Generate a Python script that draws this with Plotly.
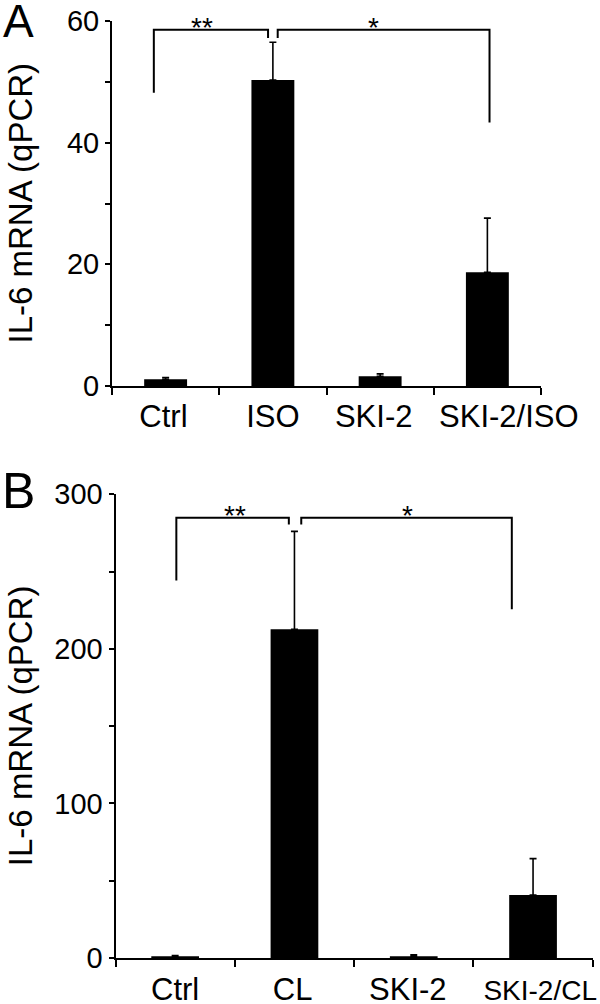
import plotly.graph_objects as go

# ---- data ----
cats_a = ["Ctrl", "ISO", "SKI-2", "SKI-2/ISO"]
vals_a = [1.1, 50.3, 1.6, 18.7]
err_a = [0.3, 6.2, 0.4, 8.9]

cats_b = ["Ctrl", "CL", "SKI-2", "SKI-2/CL"]
vals_b = [1.0, 212.7, 1.2, 40.8]
err_b = [0.6, 63.3, 0.8, 23.5]

yticks_a = [0, 20, 40, 60]
yticks_b = [0, 100, 200, 300]

# label anchor positions along the category axis (as printed in the figure)
labelpos_a = [-0.02, 1.0, 1.94, 3.2]
labelpos_b = [0.0, 0.985, 1.95, 3.06]

# significance brackets (category index positions, values)
br_a_left_x = [-0.11, -0.11, 0.955, 0.955]
br_a_left_y = [48.2, 58.55, 58.55, 57.2]
br_a_right_x = [1.045, 1.045, 3.02, 3.02]
br_a_right_y = [57.2, 58.55, 58.55, 43.3]
br_b_left_x = [0.01, 0.01, 0.953, 0.953]
br_b_left_y = [244.3, 284.9, 284.9, 280.5]
br_b_right_x = [1.057, 1.057, 2.822, 2.822]
br_b_right_y = [280.5, 284.9, 284.9, 225.6]
stars_a = [("**", 0.34, 56.0), ("*", 1.934, 56.0)]
stars_b = [("**", 0.498, 275.0), ("*", 1.948, 275.0)]

FONT = "Liberation Sans, Arial, sans-serif"

# the page body margin is removed, so the figure fills the 600x1004 window
W, H, OFF = 600, 1004, 0
def px(X):
    return (X - OFF) / W
def py(Y):
    return 1 - (Y - OFF) / H

fig = go.Figure()

def add_panel(cats, vals, errs, xa, ya):
    pos = list(range(len(cats)))
    fig.add_trace(go.Bar(
        x=pos, y=vals, xaxis=xa, yaxis=ya, width=0.4,
        marker=dict(color="black", line=dict(width=0)),
        error_y=dict(type="data", array=errs, arrayminus=[0] * len(errs),
                     symmetric=False, color="black", thickness=1.6, width=3.5),
        showlegend=False, hoverinfo="skip"))

add_panel(cats_a, vals_a, err_a, "x", "y")
add_panel(cats_b, vals_b, err_b, "x2", "y2")

for bx, by, xa, ya in [(br_a_left_x, br_a_left_y, "x", "y"),
                       (br_a_right_x, br_a_right_y, "x", "y"),
                       (br_b_left_x, br_b_left_y, "x2", "y2"),
                       (br_b_right_x, br_b_right_y, "x2", "y2")]:
    fig.add_trace(go.Scatter(x=bx, y=by, xaxis=xa, yaxis=ya, mode="lines",
                             line=dict(color="black", width=2),
                             showlegend=False, hoverinfo="skip", cliponaxis=False))

annotations = []
for txt, x, y in stars_a:
    annotations.append(dict(text=txt, x=x, y=y, xref="x", yref="y", showarrow=False,
                            xanchor="center", yanchor="bottom",
                            font=dict(size=28, color="black", family=FONT)))
for txt, x, y in stars_b:
    annotations.append(dict(text=txt, x=x, y=y, xref="x2", yref="y2", showarrow=False,
                            xanchor="center", yanchor="bottom",
                            font=dict(size=28, color="black", family=FONT)))

dom_a_y = [py(386), py(21)]
dom_b_y = [py(958), py(494.3)]

for dom in (dom_a_y, dom_b_y):
    annotations.append(dict(text="IL-6 mRNA (qPCR)", x=px(20), y=sum(dom) / 2,
                            xref="paper", yref="paper", showarrow=False, textangle=-90,
                            xanchor="center", yanchor="middle",
                            font=dict(size=33, color="black", family=FONT)))
annotations.append(dict(text="A", x=px(1), y=py(-7), xref="paper", yref="paper",
                        showarrow=False, xanchor="left", yanchor="top",
                        font=dict(size=46, color="black", family=FONT)))
annotations.append(dict(text="B", x=px(0), y=py(461), xref="paper", yref="paper",
                        showarrow=False, xanchor="left", yanchor="top",
                        font=dict(size=50, color="black", family=FONT)))

def xaxis_cfg(cats, labelpos, domain, anchor, standoff, last_size=None):
    n = len(cats)
    texts = list(cats)
    if last_size:
        texts[-1] = '<span style="font-size:%dpx">%s</span>' % (last_size, texts[-1])
    return dict(domain=domain, anchor=anchor, range=[-0.5, n - 0.5],
                tickmode="array", tickvals=labelpos, ticktext=texts,
                ticks="", tickangle=0, ticklabelstandoff=standoff,
                ticklabeloverflow="allow",
                minor=dict(tickmode="array", tickvals=[i - 0.5 for i in range(n + 1)],
                           ticks="outside", ticklen=7, tickwidth=2, tickcolor="black",
                           showgrid=False),
                showline=True, linecolor="black", linewidth=2, showgrid=False,
                zeroline=False, tickfont=dict(size=31, color="black", family=FONT),
                automargin=False, fixedrange=True)

ycommon = dict(ticks="outside", ticklen=5, tickwidth=2, tickcolor="black",
               showline=True, linecolor="black", linewidth=2, showgrid=False,
               zeroline=False, tickfont=dict(size=29, color="black", family=FONT),
               ticklabeloverflow="allow",
               automargin=False, fixedrange=True)

fig.update_layout(
    width=W, height=H,
    margin=dict(l=0, r=0, t=0, b=0, autoexpand=False),
    paper_bgcolor="white", plot_bgcolor="white",
    xaxis=xaxis_cfg(cats_a, labelpos_a, [px(112), px(541)], "y", 2),
    yaxis=dict(domain=dom_a_y, anchor="x", range=[0, 60], tickvals=yticks_a,
               minor=dict(tickvals=[10, 30, 50], ticks="outside", ticklen=5,
                          tickwidth=2, tickcolor="black"), **ycommon),
    xaxis2=xaxis_cfg(cats_b, labelpos_b, [px(115.5), px(592.7)], "y2", 3,
                     last_size=28),
    yaxis2=dict(domain=dom_b_y, anchor="x2", range=[0, 300], tickvals=yticks_b,
                minor=dict(tickvals=[50, 150, 250], ticks="outside", ticklen=5,
                           tickwidth=2, tickcolor="black"), **ycommon),
    annotations=annotations,
)

fig.write_html("out.html",
               config={"displayModeBar": False},
               post_script="document.body.style.margin='0';"
                           "document.body.style.overflow='hidden';")
